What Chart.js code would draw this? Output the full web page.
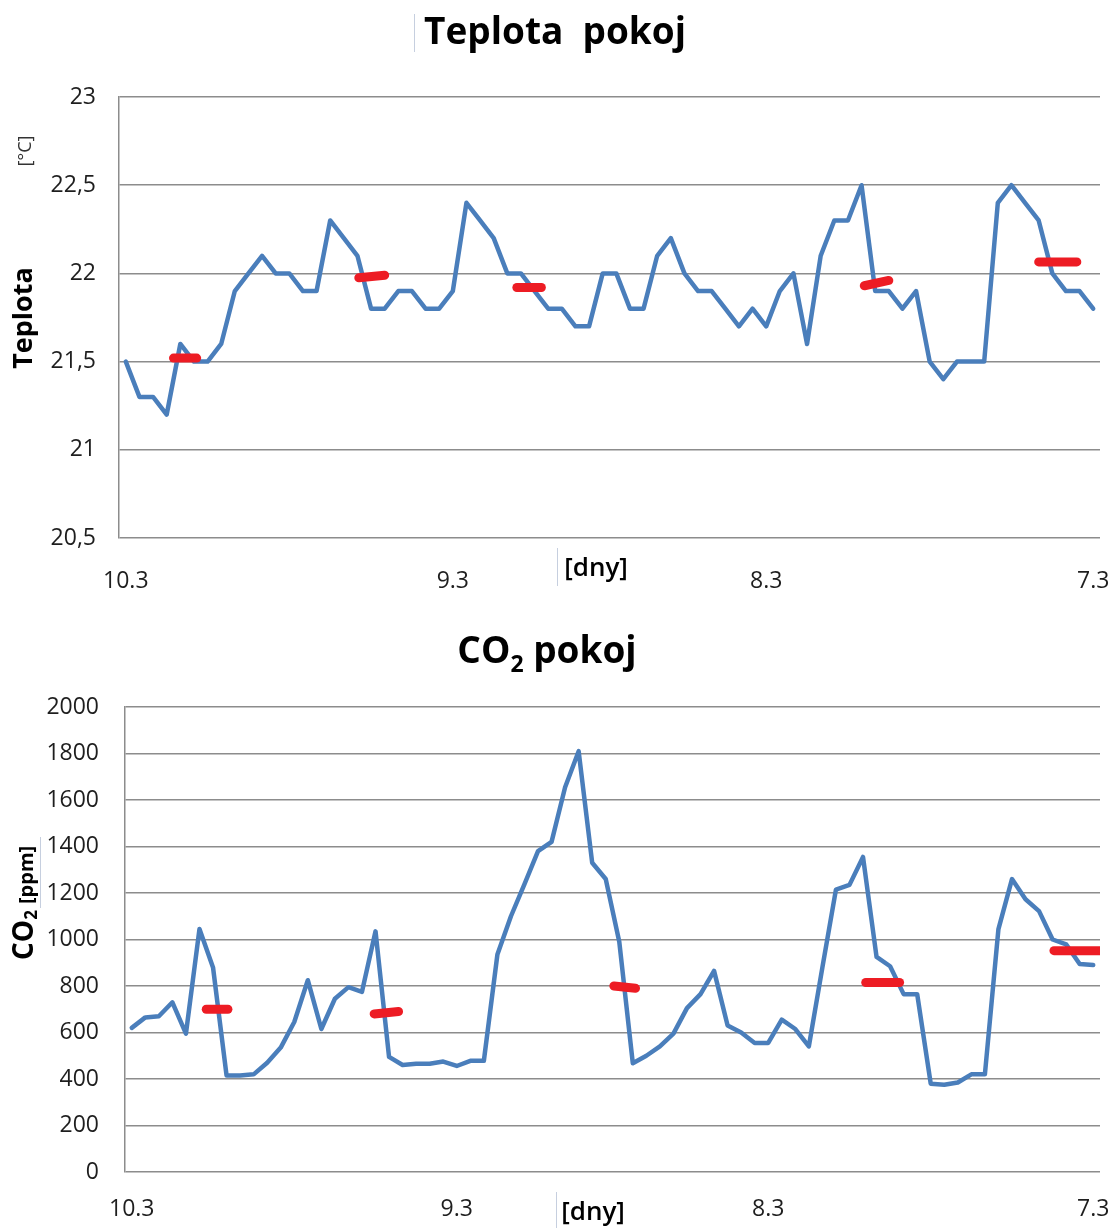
<!DOCTYPE html>
<html>
<head>
<meta charset="utf-8">
<script src="https://cdn.jsdelivr.net/npm/chart.js@4.4.1/dist/chart.umd.min.js"></script>
<style>
  html, body { margin: 0; padding: 0; background: #fff; }
  #wrap { position: relative; width: 1117px; height: 1228px; }
  canvas { position: absolute; left: 0; }
</style>
</head>
<body>
<div id="wrap">
  <canvas id="tempChart" width="1117" height="614" style="top:0"></canvas>
  <canvas id="co2Chart" width="1117" height="614" style="top:614px"></canvas>
</div>
<script>
// hourly readings, 10.3 -> 7.3
const tempValues = [21.5,21.3,21.3,21.2,21.6,21.5,21.5,21.6,21.9,22.0,
  22.1,22.0,22.0,21.9,21.9,22.3,22.2,22.1,21.8,21.8,
  21.9,21.9,21.8,21.8,21.9,22.4,22.3,22.2,22.0,22.0,
  21.9,21.8,21.8,21.7,21.7,22.0,22.0,21.8,21.8,22.1,
  22.2,22.0,21.9,21.9,21.8,21.7,21.8,21.7,21.9,22.0,
  21.6,22.1,22.3,22.3,22.5,21.9,21.9,21.8,21.9,21.5,
  21.4,21.5,21.5,21.5,22.4,22.5,22.4,22.3,22.0,21.9,
  21.9,21.8];
const co2Values = [620,665,670,730,595,1045,880,415,415,420,
  470,535,645,825,615,745,795,775,1035,495,
  460,466,466,475,456,478,478,935,1100,1238,
  1380,1420,1655,1810,1330,1260,990,468,500,540,
  595,705,765,865,630,600,555,555,655,615,
  540,880,1215,1235,1355,925,885,765,765,380,
  375,385,420,420,1045,1260,1173,1122,1000,979,
  895,890];

// day labels and the hour index where each sits
const dayLabels = ['10.3', '9.3', '8.3', '7.3'];
const dayTickIdx = [0, 24, 47, 71];

// red average marks (from hour, to hour, value at start, value at end)
const tempAvgFrom = [3.5, 17.1, 28.7, 54.2, 67.0];
const tempAvgTo = [5.2, 19.0, 30.5, 56.0, 69.8];
const tempAvgStart = [21.52, 21.975, 21.92, 21.93, 22.065];
const tempAvgEnd = [21.52, 21.99, 21.92, 21.96, 22.065];

const co2AvgFrom = [5.5, 17.9, 35.6, 54.2, 68.1];
const co2AvgTo = [7.1, 19.7, 37.2, 56.7, 71.5];
const co2AvgStart = [700, 680, 800, 815, 952];
const co2AvgEnd = [700, 690, 790, 815, 952];

const BLUE = '#4a7ebb';
const RED = '#ed1c24';
const GRID = '#8c8c8c';
const TXT = '#1e1e1e';

function lineData(values) {
  return values.map((v, i) => ({ x: i, y: v }));
}

function avgSets(from, to, a, b) {
  return from.map((f, i) => ({
    data: [{ x: f, y: a[i] }, { x: to[i], y: b[i] }],
    borderColor: RED,
    borderWidth: 9,
    borderCapStyle: 'round',
    pointRadius: 0,
    order: 0
  }));
}

function makeOptions(o) {
  return {
    responsive: false,
    animation: false,
    layout: { padding: { top: o.top, right: 17, left: 0, bottom: 0 } },
    plugins: { legend: { display: false }, tooltip: { enabled: false }, title: { display: false } },
    scales: {
      x: {
        type: 'linear',
        min: -0.5,
        max: 71.5,
        grid: { display: false },
        border: { display: false },
        afterBuildTicks: s => { s.ticks = dayTickIdx.map(v => ({ value: v })); },
        afterFit: s => {
          s.height = o.xHeight;
          s.paddingLeft = 0;
          s.paddingRight = 0;
        },
        ticks: {
          autoSkip: false,
          maxRotation: 0,
          padding: o.xPad,
          color: TXT,
          font: { family: '"Open Sans"', size: 23 },
          callback: v => dayLabels[dayTickIdx.indexOf(v)]
        }
      },
      y: {
        min: o.min,
        max: o.max,
        grid: { color: GRID, lineWidth: 1.5, drawTicks: false },
        border: { display: true, color: GRID, width: 1.5 },
        afterFit: s => { s.width = o.yWidth; },
        ticks: {
          stepSize: o.step,
          padding: o.yPad,
          color: TXT,
          font: { family: '"Open Sans"', size: 23 },
          callback: o.fmt
        }
      }
    }
  };
}

function faintLine(ctx, x, y1, y2) {
  ctx.strokeStyle = '#c6cfdf';
  ctx.lineWidth = 1;
  ctx.beginPath();
  ctx.moveTo(x, y1);
  ctx.lineTo(x, y2);
  ctx.stroke();
}

// temperature chart
new Chart(document.getElementById('tempChart'), {
  type: 'line',
  data: {
    datasets: [
      ...avgSets(tempAvgFrom, tempAvgTo, tempAvgStart, tempAvgEnd),
      {
        data: lineData(tempValues),
        borderColor: BLUE,
        borderWidth: 4.5,
        borderJoinStyle: 'round',
        borderCapStyle: 'round',
        pointRadius: 0,
        tension: 0,
        order: 1
      }
    ]
  },
  options: makeOptions({
    top: 97, xHeight: 76, xPad: 22, yWidth: 119, yPad: 23,
    min: 20.5, max: 23, step: 0.5,
    fmt: v => String(v).replace('.', ',')
  }),
  plugins: [{
    id: 'tempText',
    afterDraw(chart) {
      const ctx = chart.ctx;
      ctx.save();
      ctx.fillStyle = '#000';
      ctx.textAlign = 'center';
      ctx.textBaseline = 'alphabetic';
      ctx.font = 'bold 37px "Open Sans"';
      ctx.fillText('Teplota  pokoj', 555, 44);
      faintLine(ctx, 414.5, 14, 52);

      ctx.font = '600 26px "Open Sans"';
      ctx.textBaseline = 'middle';
      ctx.fillText('[dny]', 596, 569);
      faintLine(ctx, 557.5, 548, 586);

      ctx.save();
      ctx.translate(24, 318);
      ctx.rotate(-Math.PI / 2);
      ctx.font = 'bold 27px "Open Sans"';
      ctx.fillText('Teplota', 0, 0);
      ctx.restore();

      ctx.save();
      ctx.translate(26, 151);
      ctx.rotate(-Math.PI / 2);
      ctx.font = '18px "Open Sans"';
      ctx.fillStyle = '#333';
      ctx.fillText('[°C]', 0, 0);
      ctx.restore();
      ctx.restore();
    }
  }]
});

// CO2 chart
new Chart(document.getElementById('co2Chart'), {
  type: 'line',
  data: {
    datasets: [
      ...avgSets(co2AvgFrom, co2AvgTo, co2AvgStart, co2AvgEnd),
      {
        data: lineData(co2Values),
        borderColor: BLUE,
        borderWidth: 4.5,
        borderJoinStyle: 'round',
        borderCapStyle: 'round',
        pointRadius: 0,
        tension: 0,
        order: 1
      }
    ]
  },
  options: makeOptions({
    top: 93, xHeight: 56, xPad: 16, yWidth: 125, yPad: 26,
    min: 0, max: 2000, step: 200,
    fmt: v => String(v)
  }),
  plugins: [{
    id: 'co2Text',
    afterDraw(chart) {
      const ctx = chart.ctx;
      ctx.save();
      ctx.fillStyle = '#000';
      ctx.textBaseline = 'alphabetic';
      ctx.textAlign = 'left';

      // title with subscript
      const big = 'bold 37px "Open Sans"';
      const sub = 'bold 23px "Open Sans"';
      ctx.font = big;
      const wCO = ctx.measureText('CO').width;
      const wRest = ctx.measureText(' pokoj').width;
      ctx.font = sub;
      const w2 = ctx.measureText('2').width;
      let x = 547 - (wCO + w2 + wRest) / 2;
      ctx.font = big;
      ctx.fillText('CO', x, 49);
      ctx.font = sub;
      ctx.fillText('2', x + wCO, 58);
      ctx.font = big;
      ctx.fillText(' pokoj', x + wCO + w2, 49);

      ctx.font = '600 26px "Open Sans"';
      ctx.textAlign = 'center';
      ctx.textBaseline = 'middle';
      ctx.fillText('[dny]', 593, 599);
      faintLine(ctx, 556.5, 578, 614);
      faintLine(ctx, 40.5, 223, 294);

      // rotated axis title CO2 [ppm]
      ctx.save();
      ctx.translate(33, 346);
      ctx.rotate(-Math.PI / 2);
      ctx.textAlign = 'left';
      ctx.textBaseline = 'alphabetic';
      ctx.font = 'bold 28px "Open Sans"';
      ctx.fillText('CO', 0, 0);
      const wc = ctx.measureText('CO').width;
      ctx.font = 'bold 17px "Open Sans"';
      ctx.fillText('2', wc, 4);
      ctx.font = 'bold 20px "Open Sans"';
      ctx.fillText('[ppm]', 56, 0);
      ctx.restore();
      ctx.restore();
    }
  }]
});
</script>
</body>
</html>
